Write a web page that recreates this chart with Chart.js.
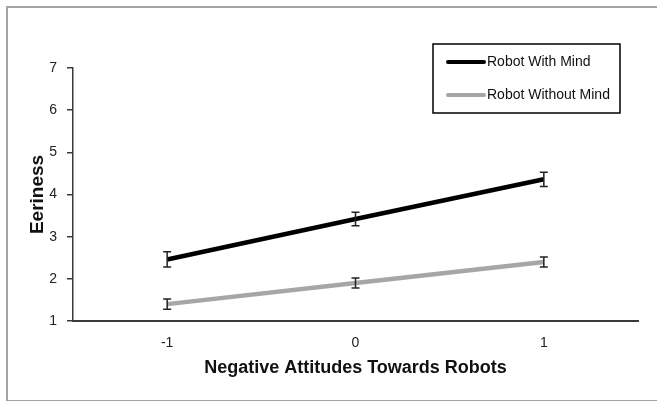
<!DOCTYPE html>
<html>
<head>
<meta charset="utf-8">
<script src="https://cdn.jsdelivr.net/npm/chart.js@4"></script>
<style>
  body { margin: 0; background: #fff; }
  #wrap { position: relative; width: 657px; height: 401px; overflow: hidden; }
  #frame {
    position: absolute; left: 6px; top: 6px; width: 700px; height: 392px;
    border-left: 2px solid #a3a3a3; border-top: 2px solid #a3a3a3; border-bottom: 2px solid #a3a3a3;
  }
  canvas { position: absolute; left: 0; top: 0; }
</style>
</head>
<body>
<div id="wrap">
  <div id="frame"></div>
  <canvas id="chart" width="657" height="401"></canvas>
</div>
<script>
// Data
const categories = ['-1', '0', '1'];
const withMind = [2.46, 3.42, 4.36];
const withMindErr = [0.18, 0.16, 0.17];
const withoutMind = [1.40, 1.90, 2.40];
const withoutMindErr = [0.12, 0.12, 0.12];
const yTicks = [1, 2, 3, 4, 5, 6, 7];

const errors = [withMindErr, withoutMindErr];

// error bars with little caps, drawn through the scales
const errorBars = {
    id: 'errorBars',
    afterDatasetsDraw(chart) {
        const ctx = chart.ctx;
        const y = chart.scales.y;
        ctx.save();
        ctx.strokeStyle = '#222';
        ctx.lineWidth = 1.5;
        chart.data.datasets.forEach((ds, i) => {
            const meta = chart.getDatasetMeta(i);
            meta.data.forEach((pt, j) => {
                const v = ds.data[j];
                const e = errors[i][j];
                const top = y.getPixelForValue(v + e);
                const bot = y.getPixelForValue(v - e);
                ctx.beginPath();
                ctx.moveTo(pt.x, top); ctx.lineTo(pt.x, bot);
                ctx.moveTo(pt.x - 4, top); ctx.lineTo(pt.x + 4, top);
                ctx.moveTo(pt.x - 4, bot); ctx.lineTo(pt.x + 4, bot);
                ctx.stroke();
            });
        });
        ctx.restore();
    }
};

// boxed legend in the upper right of the plot
const boxLegend = {
    id: 'boxLegend',
    afterDraw(chart) {
        const ctx = chart.ctx;
        const x0 = 433, y0 = 44, w = 187, h = 69;
        ctx.save();
        ctx.fillStyle = '#fff';
        ctx.fillRect(x0, y0, w, h);
        ctx.strokeStyle = '#000';
        ctx.lineWidth = 1.5;
        ctx.strokeRect(x0, y0, w, h);
        ctx.font = '14px "Liberation Sans", Arial, sans-serif';
        ctx.textBaseline = 'middle';
        chart.data.datasets.forEach((ds, i) => {
            const yy = y0 + 18 + i * 33;
            ctx.strokeStyle = ds.borderColor;
            ctx.lineWidth = 4;
            ctx.lineCap = 'round';
            ctx.beginPath();
            ctx.moveTo(448, yy); ctx.lineTo(484, yy);
            ctx.stroke();
            ctx.fillStyle = '#111';
            ctx.fillText(ds.label, 487, yy);
        });
        ctx.restore();
    }
};

new Chart(document.getElementById('chart'), {
    type: 'line',
    data: {
        labels: categories,
        datasets: [
            {
                label: 'Robot With Mind',
                data: withMind,
                borderColor: '#000',
                borderWidth: 4.5,
                pointRadius: 0,
                tension: 0
            },
            {
                label: 'Robot Without Mind',
                data: withoutMind,
                borderColor: '#a6a6a6',
                borderWidth: 4.5,
                pointRadius: 0,
                tension: 0
            }
        ]
    },
    options: {
        responsive: false,
        animation: false,
        layout: { padding: { left: 0, top: 68, right: 19, bottom: 0 } },
        plugins: {
            legend: { display: false },
            tooltip: { enabled: false }
        },
        scales: {
            x: {
                offset: true,
                grid: { display: false, drawTicks: false },
                border: { display: true, color: '#3a3a3a', width: 2 },
                ticks: {
                    padding: 14,
                    color: '#222',
                    font: { family: '"Liberation Sans", Arial', size: 14 }
                },
                title: {
                    display: true,
                    text: 'Negative Attitudes Towards Robots',
                    color: '#111',
                    font: { family: '"Liberation Sans", Arial', size: 18, weight: 'bold' },
                    padding: { top: 0, bottom: 22 }
                },
                afterFit(scale) { scale.height = 80; }
            },
            y: {
                min: 1,
                max: 7,
                afterBuildTicks(scale) { scale.ticks = yTicks.map(v => ({ value: v })); },
                grid: { drawOnChartArea: false, drawTicks: true, tickLength: 6, color: '#3a3a3a', lineWidth: 1.5 },
                border: { display: true, color: '#3a3a3a', width: 1.5 },
                ticks: {
                    padding: 10,
                    color: '#222',
                    font: { family: '"Liberation Sans", Arial', size: 14 }
                },
                title: {
                    display: true,
                    text: 'Eeriness',
                    color: '#111',
                    font: { family: '"Liberation Sans", Arial', size: 19, weight: 'bold' },
                    padding: { top: 26, bottom: 0 }
                },
                afterFit(scale) { scale.width = 73; }
            }
        }
    },
    plugins: [errorBars, boxLegend]
});
</script>
</body>
</html>
